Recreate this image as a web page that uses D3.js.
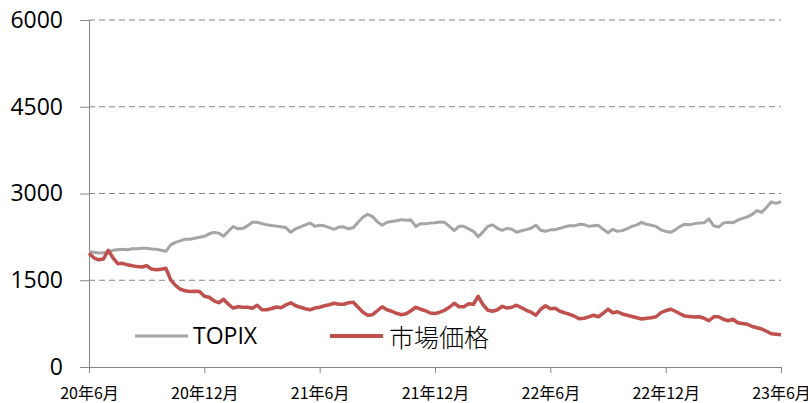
<!DOCTYPE html>
<html><head><meta charset="utf-8">
<script src="https://cdn.jsdelivr.net/npm/d3@7"></script>
<style>body{margin:0;background:#fff;overflow:hidden} svg{display:block}</style>
</head><body>
<svg id="c" width="808" height="403"></svg>
<script>
// x categories: month offsets from 2020-06, tick labels
const tickMonths = [0, 6, 12, 18, 24, 30, 36];
const tickLabels = ["20年6月", "20年12月", "21年6月", "21年12月", "22年6月", "22年12月", "23年6月"];
const yTicks = [0, 1500, 3000, 4500, 6000];
const seriesNames = ["TOPIX", "市場価格"];
const samplesPerMonth = 4; // roughly weekly readings

const topix = [
1992,1984,1970,1975,1984,2018,2026,2035,2026,2044,2044,2052,2052,2039,2035,2018,2001,2113,2156,2182,
2211,2208,2225,2242,2260,2303,2325,2315,2260,2346,2429,2389,2398,2441,2502,2502,2479,2458,2445,2436,
2424,2407,2329,2389,2424,2458,2488,2432,2450,2441,2410,2381,2419,2424,2389,2407,2502,2588,2640,2600,
2510,2450,2502,2515,2527,2548,2536,2540,2432,2479,2476,2488,2496,2507,2502,2432,2358,2432,2432,2389,
2346,2251,2337,2432,2458,2398,2363,2398,2381,2329,2355,2375,2398,2450,2363,2346,2372,2375,2398,2424,
2441,2441,2467,2462,2432,2441,2450,2381,2320,2381,2346,2358,2393,2432,2458,2502,2467,2450,2432,2372,
2346,2329,2372,2432,2470,2458,2479,2488,2493,2562,2441,2420,2488,2502,2493,2540,2571,2597,2640,2704,
2674,2764,2856,2830,2861
];
const market = [
1966,1888,1854,1866,2018,1888,1785,1793,1767,1750,1736,1728,1750,1693,1681,1690,1707,1508,1413,1344,
1318,1306,1310,1306,1223,1206,1145,1111,1171,1085,1019,1042,1033,1033,1016,1068,990,990,1011,1037,
1024,1076,1111,1059,1033,1007,990,1019,1033,1059,1076,1102,1085,1085,1111,1119,1033,947,895,904,
973,1042,990,964,929,904,921,973,1033,999,973,933,924,947,981,1033,1102,1042,1042,1094,
1085,1223,1076,981,964,990,1050,1019,1033,1068,1024,981,947,895,999,1059,1007,1016,964,935,
912,878,834,843,866,895,869,929,999,938,955,916,895,874,852,829,843,852,869,938,
973,999,964,921,881,872,864,869,843,800,869,869,826,800,826,765,753,739,700,679,
656,618,575,567,558
];

const colors = {topix: "#A5A5A5", market: "#C0504D", axis: "#868686"};

const svg = d3.select("#c");
const x = d3.scaleLinear().domain([0, 36]).range([89, 781]);
const y = d3.scaleLinear().domain([0, 6000]).range([367, 20]);

// gridlines
svg.append("g").selectAll("line").data(yTicks.filter(d => d > 0)).join("line")
  .attr("x1", x(0)).attr("x2", x(36))
  .attr("y1", d => y(d)).attr("y2", d => y(d))
  .attr("stroke", colors.axis).attr("stroke-width", 1).attr("stroke-dasharray", "6,4");

// left axis
const gy = svg.append("g").attr("transform", `translate(${x(0)},0)`)
  .call(d3.axisLeft(y).tickValues(yTicks).tickSize(9).tickSizeOuter(0).tickPadding(17).tickFormat(d3.format("d")));
gy.select(".domain").attr("stroke", colors.axis);
gy.selectAll(".tick line").attr("stroke", colors.axis);
gy.selectAll("text").attr("font-family", "'Open Sans', sans-serif").attr("font-size", 23).attr("fill", "#000");

// bottom axis
const gx = svg.append("g").attr("transform", `translate(0,${y(0)})`)
  .call(d3.axisBottom(x).tickValues(tickMonths).tickSize(6).tickSizeOuter(0).tickFormat((d, i) => tickLabels[i]));
gx.select(".domain").attr("stroke", colors.axis);
gx.selectAll(".tick line").attr("stroke", colors.axis);
gx.selectAll("text").attr("y", 32).attr("dy", 0)
  .attr("font-family", "'Noto Sans CJK JP', sans-serif").attr("font-size", 16).attr("fill", "#000");

// lines
const line = d3.line().x((d, i) => x(i / samplesPerMonth)).y(d => y(d));
svg.append("path").datum(topix).attr("d", line).attr("fill", "none")
  .attr("stroke", colors.topix).attr("stroke-width", 3).attr("stroke-linejoin", "round");
svg.append("path").datum(market).attr("d", line).attr("fill", "none")
  .attr("stroke", colors.market).attr("stroke-width", 3.5).attr("stroke-linejoin", "round");

// legend
const leg = svg.append("g");
leg.append("line").attr("x1", 135).attr("x2", 188).attr("y1", 336).attr("y2", 336)
  .attr("stroke", colors.topix).attr("stroke-width", 3);
leg.append("text").attr("x", 193).attr("y", 344).text(seriesNames[0])
  .attr("font-family", "'Open Sans', sans-serif").attr("font-size", 23).attr("fill", "#000");
leg.append("line").attr("x1", 330).attr("x2", 383).attr("y1", 336).attr("y2", 336)
  .attr("stroke", colors.market).attr("stroke-width", 4);
leg.append("text").attr("x", 389).attr("y", 347).text(seriesNames[1])
  .attr("font-family", "'Noto Sans CJK JP', sans-serif").attr("font-size", 25).attr("font-weight", 300).attr("fill", "#000");
</script>
</body></html>
